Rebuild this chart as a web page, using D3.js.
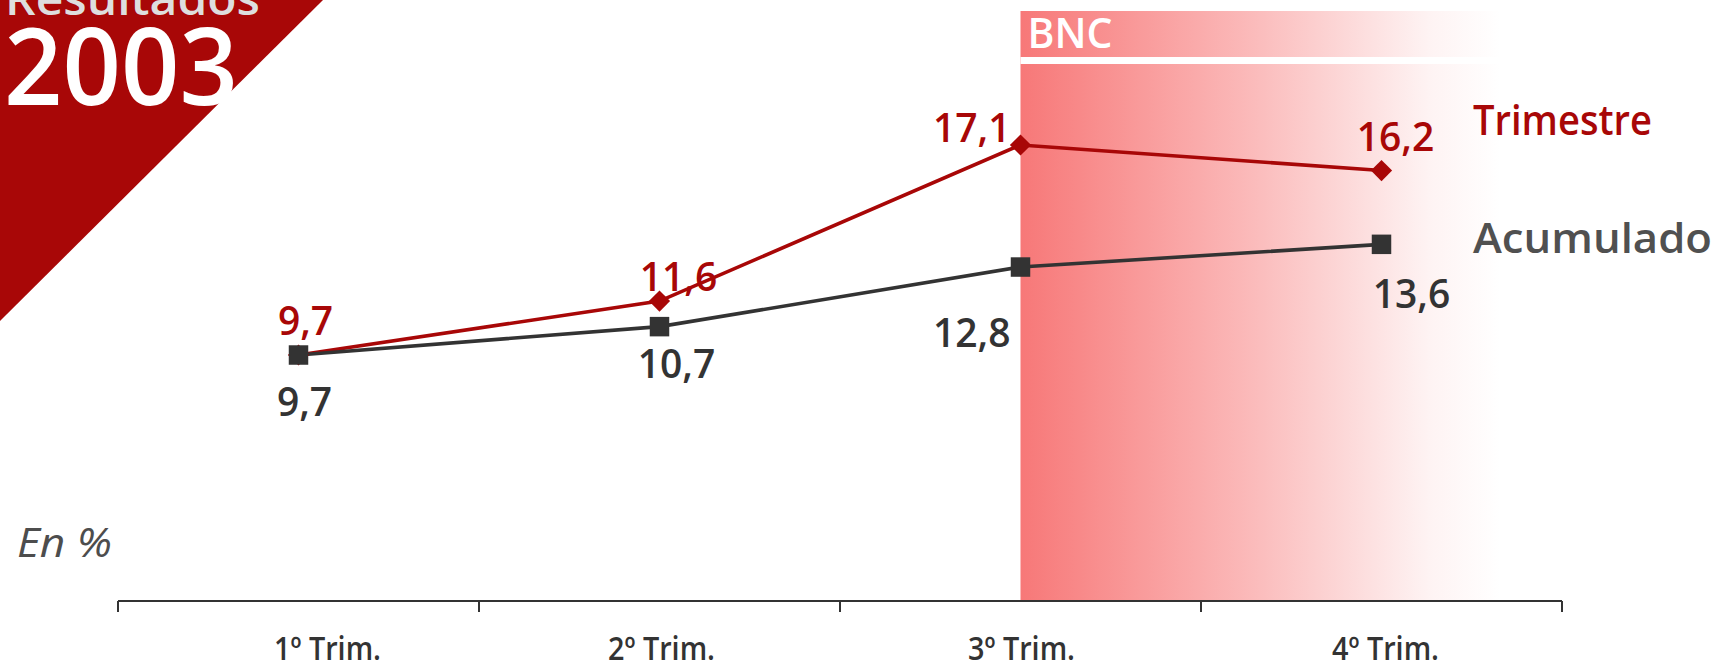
<!DOCTYPE html>
<html>
<head>
<meta charset="utf-8">
<script src="https://cdn.jsdelivr.net/npm/d3@7/dist/d3.min.js"></script>
<style>
  html, body { margin: 0; padding: 0; background: #fff; }
  svg { display: block; }
  text { font-family: "Open Sans", "DejaVu Sans", sans-serif; }
</style>
</head>
<body>
<svg id="chart" width="1719" height="661"></svg>
<script>
// ---- data ----
const categories = ["1º Trim.", "2º Trim.", "3º Trim.", "4º Trim."];
const trimestre = [9.7, 11.6, 17.1, 16.2];
const acumulado = [9.7, 10.7, 12.8, 13.6];
const seriesNames = ["Trimestre", "Acumulado"];
const highlightFrom = "3º Trim.";   // BNC band starts here
const highlightLabel = "BNC";
const unitLabel = "En %";
const titleSmall = "Resultados";
const titleYear = "2003";

// label offsets (relative to the point)
const trimLabelDx = [7, 19, -10, 14];
const trimLabelDy = [-20, -10, -3, -20];
const trimLabelAnchor = ["middle", "middle", "end", "middle"];
const acumLabelDx = [6, 17, -10, 30];
const acumLabelDy = [61, 51, 80, 64];
const acumLabelAnchor = ["middle", "middle", "end", "middle"];
const catLabelDx = [29, 2, 1, 4];

const fmt = v => d3.format(".1f")(v).replace(".", ",");

const RED = "#A80707";
const DARK = "#333333";

const svg = d3.select("#chart");

const x = d3.scaleBand().domain(categories).range([118, 1562]).padding(0);
const y = d3.scaleLinear().domain([0, 20]).range([630.3, 62.7]);
const cx = c => x(c) + x.bandwidth() / 2;
const axisY = 601;

// ---- gradient highlight band ----
const defs = svg.append("defs");
const grad = defs.append("linearGradient").attr("id", "bnc").attr("x1", "0").attr("x2", "1").attr("y1", "0").attr("y2", "0");
grad.append("stop").attr("offset", "0").attr("stop-color", "#F77878");
grad.append("stop").attr("offset", "0.5").attr("stop-color", "#FBBDBD");
grad.append("stop").attr("offset", "0.85").attr("stop-color", "#FEF3F3");
grad.append("stop").attr("offset", "1").attr("stop-color", "#FFFFFF");

const bandX0 = cx(highlightFrom);
const bandX1 = bandX0 + x.step() * 1.33;
svg.append("rect")
  .attr("x", bandX0).attr("y", 11)
  .attr("width", bandX1 - bandX0).attr("height", axisY - 11)
  .attr("fill", "url(#bnc)");
svg.append("rect")
  .attr("x", bandX0).attr("y", 57)
  .attr("width", bandX1 - bandX0).attr("height", 7)
  .attr("fill", "#fff");
svg.append("text")
  .attr("x", bandX0 + 7).attr("y", 48)
  .attr("fill", "#fff").attr("font-size", 42).attr("font-weight", 600)
  .attr("textLength", 85).attr("lengthAdjust", "spacingAndGlyphs")
  .text(highlightLabel);

// ---- title corner ----
svg.append("path")
  .attr("d", "M0,0 L323,0 L0,321 Z")
  .attr("fill", RED);
svg.append("text")
  .attr("x", 5).attr("y", 15)
  .attr("fill", "#DEDEDE").attr("font-size", 46).attr("font-weight", 600)
  .attr("textLength", 255).attr("lengthAdjust", "spacingAndGlyphs")
  .text(titleSmall);
svg.append("text")
  .attr("x", 4).attr("y", 105)
  .attr("fill", "#fff").attr("font-size", 106).attr("font-weight", 600)
  .attr("textLength", 234).attr("lengthAdjust", "spacingAndGlyphs")
  .text(titleYear);

// ---- unit ----
svg.append("text")
  .attr("x", 17).attr("y", 557)
  .attr("fill", "#4D4D4D").attr("font-size", 41).attr("font-style", "italic").attr("font-weight", 500)
  .attr("textLength", 95).attr("lengthAdjust", "spacingAndGlyphs")
  .text(unitLabel);

// ---- axis ----
const axisG = svg.append("g");
axisG.append("line")
  .attr("x1", x.range()[0]).attr("x2", x.range()[1])
  .attr("y1", axisY).attr("y2", axisY)
  .attr("stroke", DARK).attr("stroke-width", 2);
const tickPos = categories.map(c => x(c)).concat([x.range()[1]]);
axisG.selectAll("line.tick").data(tickPos).join("line")
  .attr("class", "tick")
  .attr("x1", d => d).attr("x2", d => d)
  .attr("y1", axisY).attr("y2", axisY + 11)
  .attr("stroke", DARK).attr("stroke-width", 2);
axisG.selectAll("text.cat").data(categories).join("text")
  .attr("class", "cat")
  .attr("x", (c, i) => cx(c) + catLabelDx[i]).attr("y", 660)
  .attr("text-anchor", "middle")
  .attr("fill", DARK).attr("font-size", 33).attr("font-weight", 600)
  .attr("textLength", 107).attr("lengthAdjust", "spacingAndGlyphs")
  .text(c => c);

// ---- lines ----
const line = d3.line().x((v, i) => cx(categories[i])).y(v => y(v));
svg.append("path").datum(trimestre)
  .attr("d", line).attr("fill", "none").attr("stroke", RED).attr("stroke-width", 3.6);
svg.append("path").datum(acumulado)
  .attr("d", line).attr("fill", "none").attr("stroke", DARK).attr("stroke-width", 3.6);

const diamond = d3.symbol().type(d3.symbolSquare).size(225);
svg.selectAll("path.dia").data(trimestre).join("path")
  .attr("class", "dia")
  .attr("d", diamond)
  .attr("transform", (v, i) => `translate(${cx(categories[i])},${y(v)}) rotate(45)`)
  .attr("fill", RED);
const square = d3.symbol().type(d3.symbolSquare).size(380);
svg.selectAll("path.sq").data(acumulado).join("path")
  .attr("class", "sq")
  .attr("d", square)
  .attr("transform", (v, i) => `translate(${cx(categories[i])},${y(v)})`)
  .attr("fill", DARK);

// ---- value labels ----
svg.selectAll("text.tl").data(trimestre).join("text")
  .attr("class", "tl")
  .attr("x", (v, i) => cx(categories[i]) + trimLabelDx[i])
  .attr("y", (v, i) => y(v) + trimLabelDy[i])
  .attr("text-anchor", (v, i) => trimLabelAnchor[i])
  .attr("fill", RED).attr("font-size", 39).attr("font-weight", 600)
  .text(fmt);
svg.selectAll("text.al").data(acumulado).join("text")
  .attr("class", "al")
  .attr("x", (v, i) => cx(categories[i]) + acumLabelDx[i])
  .attr("y", (v, i) => y(v) + acumLabelDy[i])
  .attr("text-anchor", (v, i) => acumLabelAnchor[i])
  .attr("fill", DARK).attr("font-size", 39).attr("font-weight", 600)
  .text(fmt);

// ---- series legend ----
svg.append("text")
  .attr("x", 1473).attr("y", 135)
  .attr("fill", RED).attr("font-size", 42).attr("font-weight", 600)
  .attr("textLength", 179).attr("lengthAdjust", "spacingAndGlyphs")
  .text(seriesNames[0]);
svg.append("text")
  .attr("x", 1473).attr("y", 253)
  .attr("fill", "#505050").attr("font-size", 42).attr("font-weight", 600)
  .attr("textLength", 239).attr("lengthAdjust", "spacingAndGlyphs")
  .text(seriesNames[1]);
</script>
</body>
</html>
